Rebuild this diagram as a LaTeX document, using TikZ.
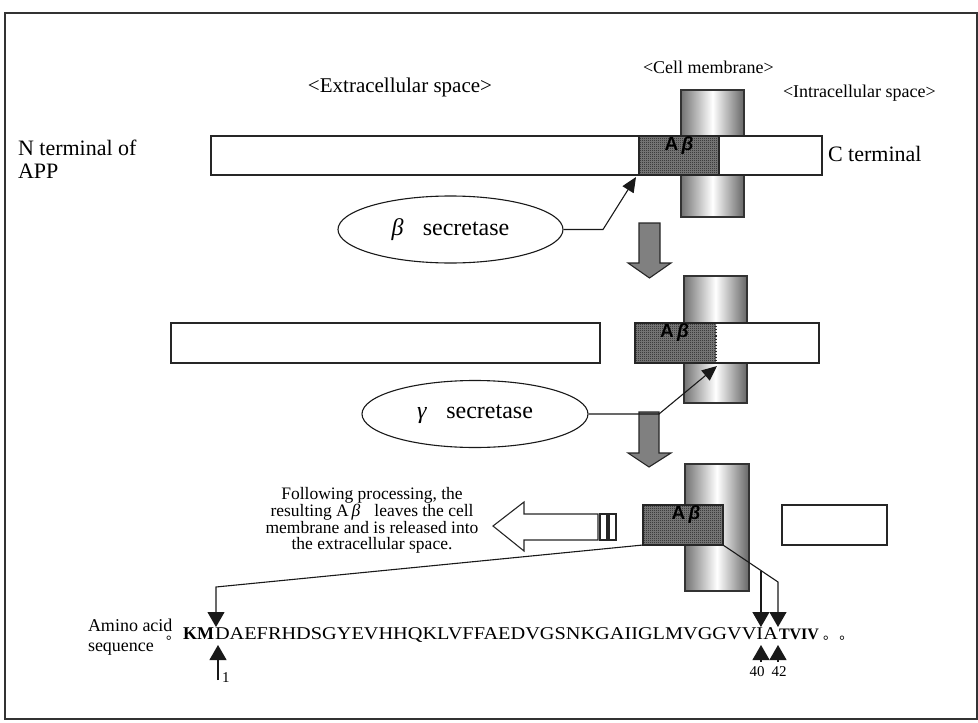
\documentclass[tikz,border=0pt]{standalone}
\usepackage{fontspec}
\setmainfont{Liberation Serif}
\setsansfont{Liberation Sans}
\newfontfamily\cjkfont{Noto Sans CJK JP}
\usetikzlibrary{shapes.geometric,arrows.meta,patterns,calc}
\pgfdeclarepatternformonly{finecheck}{\pgfqpoint{0pt}{0pt}}{\pgfqpoint{2pt}{2pt}}{\pgfqpoint{2pt}{2pt}}{%
  \pgfpathrectangle{\pgfqpoint{0pt}{0pt}}{\pgfqpoint{1pt}{1pt}}%
  \pgfpathrectangle{\pgfqpoint{1pt}{1pt}}{\pgfqpoint{1pt}{1pt}}%
  \pgfusepath{fill}}
\begin{document}
\begin{tikzpicture}[x=1pt,y=-1pt,
  barbox/.style={draw=black!85, line width=1.1pt, fill=white, inner sep=0pt, outer sep=0pt, anchor=north west},
  hatchfill/.style={preaction={fill=black!50}, pattern=finecheck, pattern color=black!90},
  hatchbox/.style={draw=black!85, line width=1.1pt, inner sep=0pt, outer sep=0pt, anchor=north west, hatchfill},
  cylbox/.style={draw=black!80, line width=1.1pt, inner sep=0pt, outer sep=0pt, anchor=north west,
     left color=black!55, right color=black!60, middle color=white, minimum width=63pt, minimum height=127pt},
  ablabel/.style={font=\fontsize{19}{19}\selectfont\sffamily\bfseries, inner sep=1pt, anchor=north},
  secbox/.style={draw=black!90, line width=1.1pt, ellipse, inner sep=0pt, minimum width=225pt, minimum height=67pt,
     font=\fontsize{24}{26}\selectfont},
  grayarrow/.style={draw=black!85, line width=1.1pt, fill=black!50},
  conn/.style={draw=black!90, line width=1.1pt},
  headarrow/.style={conn, -{Triangle[width=13pt,length=15pt]}},
  bigheadarrow/.style={conn, -{Triangle[width=17pt,length=15pt]}},
  lbl/.style={inner sep=0pt, outer sep=0pt}
]
\useasboundingbox (0,0) rectangle (978,723);
\draw[line width=1.5pt, black!80] (5,13) rectangle (977,719);

% ---- labels top
\node[lbl, anchor=base, font=\fontsize{21}{21}\selectfont] (ext) at (400,92) {<Extracellular space>};
\node[lbl, anchor=base west, font=\fontsize{18}{18}\selectfont] (cellm) at (643,73) {<Cell membrane>};
\node[lbl, anchor=base west, font=\fontsize{18}{18}\selectfont] (intra) at (783,97) {<Intracellular space>};

% ---- stage 1
\node[cylbox] (mem1) at (681,90) {};
\node[barbox, minimum width=611pt, minimum height=39pt] (app) at (211,136) {};
\node[hatchbox, minimum width=80pt, minimum height=39pt] (ab1) at (639,136) {};
\node[ablabel] (ab1l) at ($(ab1.north)+(0,0)$) {A\,\textit{β}};
\node[lbl, anchor=north west, align=left, font=\fontsize{22}{23}\selectfont] (nterm) at (18,140) {N terminal of\\APP};
\node[lbl, anchor=base west, font=\fontsize{22}{22}\selectfont] (cterm) at (828,161) {C terminal};
\node[secbox] (bsec) at (450.5,229.5) {\textit{β}\hspace{0.8em}secretase};
\coordinate (b1) at (603,229.5);
\draw[headarrow] (bsec.east) -- (b1) -- ($(ab1.south west)+(-3,2)$);

% gray arrow 1
\draw[grayarrow] (639,223) -- (660,223) -- (660,263) -- (671,263) -- (649.5,278) -- (628,263) -- (639,263) -- cycle;

% ---- stage 2
\node[barbox, minimum width=429pt, minimum height=40pt] (frag2) at (171,323) {};
\node[cylbox] (mem2) at (684,276) {};
\node[barbox, minimum width=184pt, minimum height=40pt] (bar2) at (635,323) {};
\node[inner sep=0pt, outer sep=0pt, anchor=north west, minimum width=81pt, minimum height=40pt, hatchfill] (ab2) at (635,323) {};
\draw[draw=black!85, line width=1.1pt] (ab2.north east) -- (ab2.north west) -- (ab2.south west) -- (ab2.south east);
\draw[draw=black!85, line width=1.1pt, dotted] (ab2.north east) -- (ab2.south east);
\draw[draw=black!85, line width=1.1pt] (bar2.north west) rectangle (bar2.south east);
\node[ablabel] (ab2l) at ($(ab2.north)+(-1,0)$) {A\,\textit{β}};

% gray arrow 2
\draw[grayarrow] (639,412) -- (659,412) -- (659,453) -- (671,453) -- (649,467) -- (628,453) -- (639,453) -- cycle;

\node[secbox, minimum width=226pt] (gsec) at (475,414) {\textit{γ}\hspace{0.8em}secretase};
\coordinate (g1) at (659,414);
\draw[headarrow] (gsec.east) -- (g1) -- ($(ab2.south east)+(1,3)$);

% ---- stage 3
\node[cylbox, minimum width=64pt] (mem3) at (685,464) {};
\node[hatchbox, minimum width=80pt, minimum height=40pt] (ab3) at (643,505) {};
\node[ablabel] (ab3l) at ($(ab3.north)+(3,0)$) {A\,\textit{β}};
\node[barbox, minimum width=105pt, minimum height=40pt] (frag3) at (782,505) {};

% hollow arrow
\draw[draw=black!85, line width=1.1pt, fill=white] (493,526) -- (524,502) -- (524,514) -- (598,514) -- (598,540) -- (524,540) -- (524,551) -- cycle;
\node[barbox, minimum width=7pt, minimum height=26pt] (sq1) at (600,514) {};
\node[barbox, minimum width=7pt, minimum height=26pt] (sq2) at (609,514) {};

\node[lbl, align=center, font=\fontsize{17.5}{15.9}\selectfont] (follow) at (372,520)
  {Following processing, the\\resulting A\,\textit{β}\hspace{0.8em}leaves the cell\\membrane and is released into\\the extracellular space.};

% ---- sequence
\node[lbl, anchor=north west, align=left, font=\fontsize{18}{20}\selectfont] (amino) at (88,619) {Amino acid\\sequence};
\node[lbl, anchor=base west, font=\fontsize{14}{14}\cjkfont] (dot0) at (166,639) {。};
\node[lbl, anchor=base west, font=\fontsize{18}{18}\selectfont\bfseries] (km) at (183,639) {KM};
\node[lbl, anchor=base west, font=\fontsize{18}{18}\selectfont] (seq) at (215,639) {\resizebox{563pt}{11.9pt}{DAEFRHDSGYEVHHQKLVFFAEDVGSNKGAIIGLMVGGVVIA}};
\node[lbl, anchor=base west, font=\fontsize{16}{16}\selectfont\bfseries] (tviv) at (779,639) {TVIV};
\node[lbl, anchor=base west, font=\fontsize{14}{14}\cjkfont] (dots) at (823,639) {。\,。};

\coordinate (c1) at (216,587);
\coordinate (t1) at (216,627);
\draw[bigheadarrow] (ab3.south west) -- (c1) -- (t1);
\coordinate (c42) at (778,582);
\coordinate (t42) at (778,627);
\coordinate (c40) at ($(ab3.south east)!0.69!(c42)$);
\coordinate (t40) at (761,627);
\draw[bigheadarrow] (ab3.south east) -- (c42) -- (t42);
\draw[bigheadarrow] (c40) -- (c40 |- t40);

\coordinate (u1s) at (218,680);
\coordinate (u1) at (218,645);
\draw[bigheadarrow] (u1s) -- (u1);
\node[lbl, anchor=base west, font=\fontsize{15}{15}\selectfont] (n1) at (222,682) {1};
\coordinate (u40s) at (761,662);
\coordinate (u40) at (761,645);
\coordinate (u42s) at (778,662);
\coordinate (u42) at (778,645);
\draw[bigheadarrow] (u40s) -- (u40);
\draw[bigheadarrow] (u42s) -- (u42);
\node[lbl, anchor=base, font=\fontsize{15}{15}\selectfont] (n40) at (757,676) {40};
\node[lbl, anchor=base, font=\fontsize{15}{15}\selectfont] (n42) at (779,676) {42};
\end{tikzpicture}
\end{document}
